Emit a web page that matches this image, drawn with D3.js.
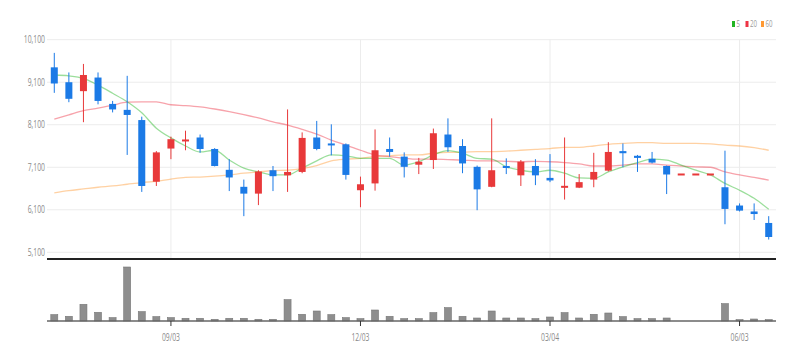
<!DOCTYPE html>
<html><head><meta charset="utf-8">
<script src="https://cdn.jsdelivr.net/npm/d3@7"></script>
<style>
html,body{margin:0;padding:0;background:#fff;}
svg{display:block;font-family:"Open Sans","Noto Sans",sans-serif;}
</style></head>
<body>
<svg id="chart" width="800" height="360"></svg>
<script>
const dates = ["2018-07-09","2018-07-16","2018-07-23","2018-07-30","2018-08-06","2018-08-13","2018-08-20","2018-08-27",
"2018-09-03","2018-09-10","2018-09-17","2018-09-24","2018-10-01","2018-10-08","2018-10-15","2018-10-22","2018-10-29",
"2018-11-05","2018-11-12","2018-11-19","2018-11-26","2018-12-03","2018-12-10","2018-12-17","2018-12-24","2018-12-31",
"2019-01-07","2019-01-14","2019-01-21","2019-01-28","2019-02-04","2019-02-11","2019-02-18","2019-02-25",
"2019-03-04","2019-03-11","2019-03-18","2019-03-25","2019-04-01","2019-04-08","2019-04-15","2019-04-22","2019-04-29",
"2019-05-06","2019-05-13","2019-05-20","2019-05-27","2019-06-03","2019-06-10","2019-06-17"];
const open  = [9450,9100,8890,9210,8590,8450,8210,6760,7540,7710,7800,7530,7040,6640,6480,7030,6910,6990,7800,7660,7640,6560,6720,7530,7350,7160,7270,7870,7600,7110,6640,7130,6910,7130,6850,6620,6620,6810,7020,7480,7370,7300,7130,6930,6930,6930,6630,6200,6060,5790];
const high  = [9790,9330,9530,9330,8660,9250,8290,7480,7820,7960,7870,7550,7290,6810,7030,7130,8460,7920,8190,8110,7660,6880,7990,7800,7450,7320,8010,8250,7760,7140,8250,7310,7270,7290,7410,7800,6940,7440,7690,7660,7390,7460,7140,6930,6930,6930,7490,6250,6250,5950];
const low   = [8850,8630,8160,8580,8390,7390,6520,6660,7290,7500,7440,7120,6540,5950,6210,6540,6520,6960,7500,7380,6810,6160,6550,7350,6860,6940,7060,7460,6960,6090,6630,6940,6660,6680,6750,6340,6610,6630,7000,7100,6990,7190,6470,6930,6930,6930,5760,6060,5860,5400];
const close = [9070,8710,9270,8660,8460,8330,6660,7450,7760,7730,7530,7130,6860,6480,7000,6890,6990,7790,7530,7620,6920,6700,7500,7460,7110,7230,7900,7570,7190,6580,7030,7090,7230,6910,6790,6640,6750,6990,7460,7430,7320,7210,6930,6930,6930,6930,6120,6080,6000,5460];
const volume = [64,47,167,87,34,540,94,44,34,27,27,17,27,27,17,17,214,67,100,64,34,24,110,47,24,24,84,134,47,30,100,30,30,24,40,84,30,67,80,44,24,24,30,0,0,0,174,14,20,14];
const ma5  = [9270,9250,9190,9030,8840,8640,8380,8020,7790,7600,7460,7500,7270,7080,6990,6920,6920,7080,7250,7390,7370,7310,7310,7310,7150,7230,7390,7490,7430,7310,7290,7110,7030,6990,7030,6960,6850,6840,6990,7110,7210,7290,7270,7150,7030,6920,6720,6560,6370,6110];
const ma20 = [8230,8330,8430,8490,8560,8630,8640,8640,8570,8550,8520,8470,8410,8340,8260,8170,8090,7990,7880,7740,7620,7500,7390,7350,7310,7290,7290,7280,7270,7250,7250,7240,7230,7240,7230,7210,7180,7130,7130,7150,7180,7180,7150,7130,7110,7100,6990,6920,6860,6800];
const ma60 = [6500,6550,6590,6630,6660,6700,6740,6770,6820,6860,6870,6890,6920,6960,6990,7020,7030,7070,7140,7250,7290,7310,7350,7370,7390,7390,7430,7450,7450,7470,7470,7480,7500,7520,7540,7570,7570,7600,7640,7660,7680,7680,7660,7660,7660,7650,7620,7600,7560,7500];
const priceTicks = [5100,6100,7100,8100,9100,10100];
const tickDates = ["2018-09-03","2018-12-03","2019-03-04","2019-06-03"];
const tickLabels = ["09/03","12/03","03/04","06/03"];
const maNames = ["5","20","60"];
const maColors = ["#22b522","#ee3344","#ff9933"];

const svg = d3.select("#chart");
const x = d3.scaleBand().domain(dates).range([47, 776]).padding(0);
const cx = d => x(d) + x.bandwidth()/2;
const y = d3.scaleLinear().domain([5100, 10100]).range([252.3, 39.7]);
const yv = d3.scaleLinear().domain([0, d3.max(volume)]).range([321, 267]);

// gridlines
svg.append("g").selectAll("line").data(priceTicks).join("line")
  .attr("x1", 47).attr("x2", 776).attr("y1", d => y(d)).attr("y2", d => y(d))
  .attr("stroke", "#ececec").attr("stroke-width", 1);
svg.append("g").selectAll("line").data(tickDates).join("line")
  .attr("x1", d => cx(d)).attr("x2", d => cx(d)).attr("y1", y(10100)).attr("y2", 259)
  .attr("stroke", "#ececec").attr("stroke-width", 1);

// y labels (condensed)
svg.append("g").selectAll("text").data(priceTicks).join("text")
  .attr("transform", d => `translate(45,${y(d)}) scale(0.68,1)`)
  .attr("dy", "0.35em")
  .attr("text-anchor", "end").attr("font-size", 10).attr("fill", "#8a8a8a")
  .text(d => d3.format(",")(d));

// MA lines
const line = d3.line().x((d,i) => cx(dates[i])).y(d => y(d)).curve(d3.curveMonotoneX);
[ma60, ma20, ma5].forEach((arr, k) => {
  const col = [maColors[2], maColors[1], maColors[0]][k];
  svg.append("path").datum(arr).attr("d", line).attr("fill", "none")
    .attr("stroke", col).attr("stroke-opacity", 0.45).attr("stroke-width", 1.3);
});

// candles
const idx = d3.range(dates.length);
const colorOf = i => close[i] >= open[i] ? "#e8393a" : "#1b7ae6";
const cg = svg.append("g");
cg.selectAll("line").data(idx).join("line")
  .attr("x1", i => cx(dates[i])).attr("x2", i => cx(dates[i]))
  .attr("y1", i => y(high[i])).attr("y2", i => y(low[i]))
  .attr("stroke", colorOf).attr("stroke-width", 1);
cg.selectAll("rect").data(idx).join("rect")
  .attr("x", i => cx(dates[i]) - 3.5).attr("width", 7)
  .attr("y", i => y(Math.max(open[i], close[i])) - (Math.abs(open[i]-close[i]) < 30 ? 1 : 0))
  .attr("height", i => Math.max(2, y(Math.min(open[i], close[i])) - y(Math.max(open[i], close[i]))))
  .attr("fill", colorOf);

// separator
svg.append("line").attr("x1", 47).attr("x2", 776).attr("y1", 259).attr("y2", 259)
  .attr("stroke", "#222").attr("stroke-width", 2);

// volume
svg.append("g").selectAll("rect").data(idx.filter(i => volume[i] > 0)).join("rect")
  .attr("x", i => cx(dates[i]) - 3.5).attr("width", 7)
  .attr("y", i => yv(volume[i])).attr("height", i => yv(0) - yv(volume[i]))
  .attr("fill", "#8e8e8e").attr("stroke", "#777").attr("stroke-width", 0.6);
svg.append("line").attr("x1", 47).attr("x2", 776).attr("y1", 321).attr("y2", 321)
  .attr("stroke", "#666").attr("stroke-width", 1.5);
svg.append("g").selectAll("line").data(tickDates).join("line")
  .attr("x1", d => cx(d)).attr("x2", d => cx(d)).attr("y1", 321).attr("y2", 326)
  .attr("stroke", "#333").attr("stroke-width", 1);
svg.append("g").selectAll("text").data(tickDates).join("text")
  .attr("transform", d => `translate(${cx(d)},337) scale(0.68,1)`)
  .attr("dy", "0.35em")
  .attr("text-anchor", "middle").attr("font-size", 10).attr("fill", "#8a8a8a")
  .text((d,i) => tickLabels[i]);

// legend
const lg = svg.append("g");
const lx = [732, 745.5, 761];
maNames.forEach((n, i) => {
  lg.append("rect").attr("x", lx[i]).attr("y", 21).attr("width", 3).attr("height", 6).attr("fill", maColors[i]);
  lg.append("text").attr("transform", `translate(${lx[i] + 4.5},24) scale(0.68,1)`).attr("dy", "0.35em")
    .attr("font-size", 9).attr("fill", "#999").text(n);
});
</script>
</body></html>
